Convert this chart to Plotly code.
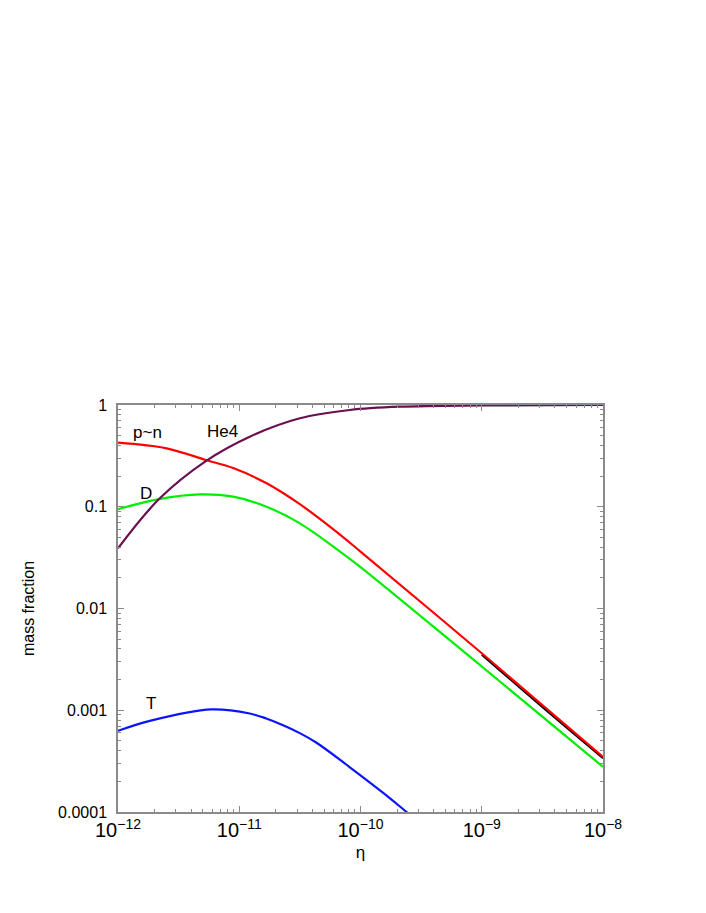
import plotly.graph_objects as go

# eta (baryon to photon ratio) and mass fractions
eta_he4 = [1e-12, 2.18e-12, 5.3e-12, 1.22e-11, 3.16e-11, 8.17e-11, 2.11e-10, 1e-9, 1e-8]
y_he4 = [0.039, 0.119, 0.281, 0.488, 0.74, 0.893, 0.962, 0.991, 0.9995]

eta_pn = [1e-12, 2.51e-12, 5.3e-12, 8.9e-12, 1.68e-11, 3.16e-11, 5.94e-11, 1e-10, 1e-9, 1e-8]
y_pn = [0.426, 0.375, 0.288, 0.240, 0.170, 0.106, 0.0603, 0.0363, 0.00363, 3.48e-4]

# n sits just under p (only a dark edge is visible)
eta_n = [1e-9, 3.65e-9, 1e-8]
y_n = [0.00352, 9.3e-4, 3.38e-4]

eta_d = [1e-12, 2.18e-12, 4.72e-12, 8.91e-12, 1.68e-11, 3.16e-11, 6.53e-11, 1e-10, 1e-9, 1e-8]
y_d = [0.0948, 0.119, 0.1324, 0.1256, 0.1, 0.0687, 0.0375, 0.0255, 0.00269, 2.78e-4]

eta_t = [1e-12, 1.83e-12, 5.89e-12, 1.22e-11, 1.67e-11, 2.3e-11, 3.16e-11, 4.34e-11, 8.17e-11, 1.53e-10, 2.4e-10, 3.55e-10]
y_t = [6.28e-4, 7.87e-4, 1.02e-3, 9.29e-4, 8.3e-4, 7.13e-4, 5.96e-4, 4.79e-4, 2.75e-4, 1.55e-4, 1.0e-4, 6.8e-5]

labels = ["p~n", "He4", "D", "T"]
# label positions as log10 values (log axes)
label_x = [-11.755, -11.136, -11.77, -11.73]
label_y = [-0.275, -0.256, -0.865, -2.935]

fig = go.Figure()
fig.add_trace(go.Scatter(x=eta_n, y=y_n, mode="lines", line=dict(color="black", width=2, shape="spline")))
fig.add_trace(go.Scatter(x=eta_pn, y=y_pn, mode="lines", line=dict(color="#ff0000", width=2.2, shape="spline")))
fig.add_trace(go.Scatter(x=eta_d, y=y_d, mode="lines", line=dict(color="#00ee00", width=2.2, shape="spline")))
fig.add_trace(go.Scatter(x=eta_t, y=y_t, mode="lines", line=dict(color="#0a14ff", width=2.2, shape="spline")))
fig.add_trace(go.Scatter(x=eta_he4, y=y_he4, mode="lines", line=dict(color="#6b0f4f", width=2.2, shape="spline")))

for t, lx, ly in zip(labels, label_x, label_y):
    fig.add_annotation(x=lx, y=ly, text=t, showarrow=False, font=dict(size=17, color="black"),
                       xanchor="center", yanchor="middle")

axis_common = dict(
    type="log", showgrid=False, zeroline=False, showline=True, linecolor="#8a8a8a", linewidth=1.5,
    mirror="allticks", ticks="inside", ticklen=6, tickcolor="#8a8a8a", tickwidth=1,
    minor=dict(ticks="inside", ticklen=3, tickcolor="#8a8a8a", dtick="D1", showgrid=False),
    tickfont=dict(size=16, color="black"),
)

fig.update_layout(
    width=706, height=913,
    margin=dict(l=110, r=111, t=397, b=109),
    plot_bgcolor="white", paper_bgcolor="white",
    showlegend=False,
    font=dict(family="Liberation Sans, Arial, sans-serif", size=16, color="black"),
    xaxis=dict(axis_common, range=[-12, -8], dtick=1, exponentformat="power",
               title=dict(text="η", standoff=6, font=dict(size=17))),
    yaxis=dict(axis_common, range=[-4, 0], tickvals=[1e-4, 1e-3, 1e-2, 0.1, 1],
               ticktext=["0.0001", "0.001", "0.01", "0.1", "1"], ticklabelstandoff=6,
               title=dict(text="mass fraction", standoff=20, font=dict(size=16))),
)

fig.write_html("out.html")
